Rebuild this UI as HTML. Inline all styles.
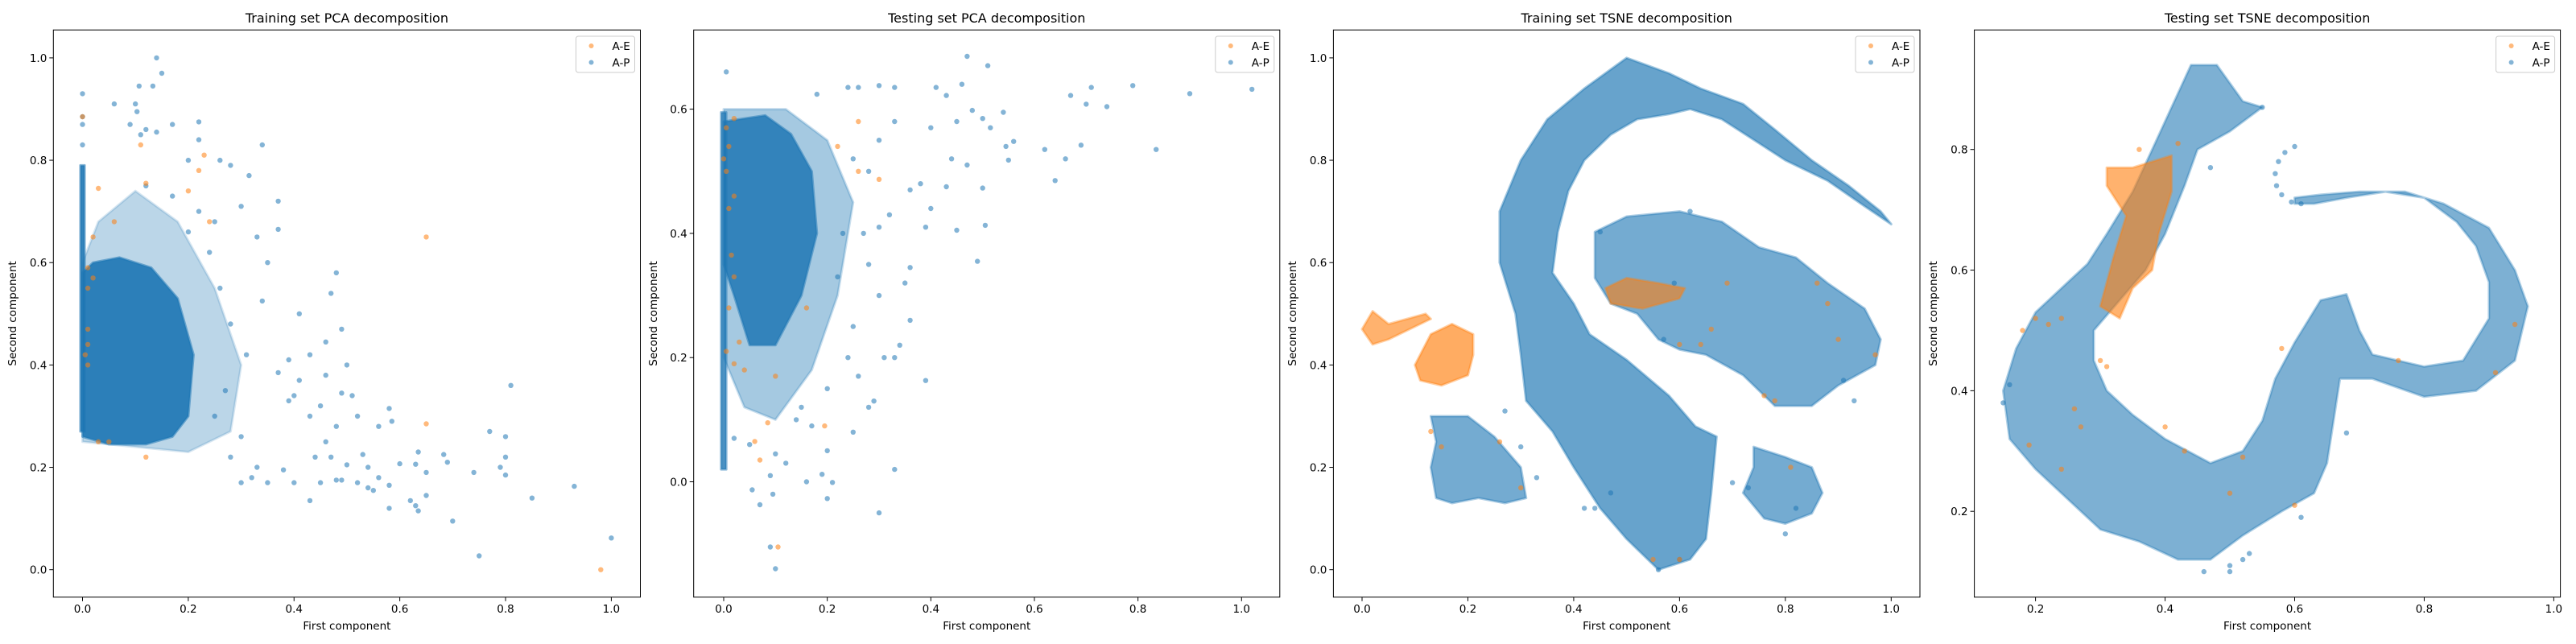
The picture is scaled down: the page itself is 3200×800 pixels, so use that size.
<!DOCTYPE html>
<html><head><meta charset="utf-8"><style>
html,body{margin:0;padding:0;background:#fff}
svg{display:block;font-family:"DejaVu Sans","Liberation Sans",sans-serif}
</style></head><body>
<svg id="fig" width="3200" height="800" viewBox="0 0 3200 800" xmlns="http://www.w3.org/2000/svg"></svg>
<script>
// ---------- data (data coordinates) ----------
// Panel 1: Training set PCA
const p1DenseCore = [[0,0.26],[0.05,0.245],[0.12,0.245],[0.17,0.26],[0.2,0.3],[0.21,0.42],[0.18,0.53],[0.13,0.59],[0.07,0.61],[0.02,0.6],[0,0.58]];
const p1Halo = [[0,0.25],[0.2,0.23],[0.28,0.27],[0.3,0.4],[0.25,0.55],[0.18,0.68],[0.1,0.74],[0.03,0.68],[0,0.6]];
const p1Strip = [[-0.004,0.27],[0.004,0.27],[0.004,0.79],[-0.004,0.79]];
const p1BlueX = [0.14,0.15,0.107,0.133,0.06,0.1,0.103,0.22,0.17,0.09,0.12,0.14,0.11,0.0,0.34,0.22,0.2,0.26,0.28,0.315,0.37,0.3,0.37,0.33,0.35,0.48,0.47,0.41,0.49,0.34,0.5,0.46,0.43,0.39,0.37,0.41,0.46,0.51,0.49,0.4,0.39,0.45,0.56,0.58,0.585,0.52,0.43,0.48,0.46,0.53,0.44,0.47,0.5,0.54,0.6,0.635,0.63,0.683,0.69,0.77,0.81,0.8,0.8,0.79,0.8,0.74,0.65,0.56,0.58,0.52,0.49,0.54,0.55,0.48,0.45,0.43,0.62,0.63,0.635,0.58,0.65,0.7,0.75,0.85,0.93,1.0,0.3,0.35,0.32,0.4,0.38,0.33,0.28,0.3,0.25,0.27,0.31,0.28,0.26,0.24,0.2,0.22,0.25,0.17,0.12,0.0,0.0,0.0];
const p1BlueY = [1.0,0.97,0.945,0.945,0.91,0.91,0.895,0.875,0.87,0.87,0.86,0.855,0.85,0.93,0.83,0.84,0.8,0.8,0.79,0.77,0.72,0.71,0.665,0.65,0.6,0.58,0.54,0.5,0.47,0.525,0.4,0.445,0.42,0.41,0.385,0.37,0.38,0.34,0.345,0.34,0.33,0.32,0.28,0.315,0.29,0.3,0.3,0.28,0.25,0.225,0.22,0.22,0.205,0.2,0.207,0.23,0.206,0.225,0.21,0.27,0.36,0.26,0.22,0.2,0.185,0.19,0.19,0.18,0.165,0.17,0.175,0.16,0.155,0.175,0.17,0.135,0.135,0.125,0.115,0.12,0.145,0.095,0.027,0.14,0.163,0.062,0.17,0.17,0.18,0.17,0.195,0.2,0.22,0.26,0.3,0.35,0.42,0.48,0.55,0.62,0.66,0.7,0.68,0.73,0.75,0.885,0.87,0.83];
const p1OrangeX = [0.98,0.65,0.65,0.23,0.22,0.03,0.12,0.2,0.24,0.02,0.01,0.02,0.01,0.01,0.01,0.005,0.01,0.12,0.03,0.05,0.11,0.06,0.0];
const p1OrangeY = [0.0,0.65,0.285,0.81,0.78,0.745,0.755,0.74,0.68,0.65,0.59,0.57,0.55,0.47,0.44,0.42,0.4,0.22,0.25,0.25,0.83,0.68,0.885];

// Panel 2: Testing set PCA
const p2DenseCore = [[0,0.58],[0.08,0.59],[0.13,0.56],[0.17,0.5],[0.18,0.4],[0.15,0.3],[0.1,0.22],[0.05,0.22],[0.02,0.3],[0,0.35]];
const p2Halo = [[0,0.6],[0.12,0.6],[0.2,0.55],[0.25,0.45],[0.22,0.3],[0.17,0.18],[0.1,0.1],[0.04,0.12],[0,0.2]];
const p2Strip = [[-0.005,0.02],[0.005,0.02],[0.005,0.595],[-0.005,0.595]];
const p2BlueX = [0.005,0.47,0.51,0.46,0.71,0.79,1.02,0.9,0.67,0.7,0.74,0.43,0.41,0.3,0.33,0.26,0.24,0.18,0.48,0.54,0.5,0.515,0.45,0.4,0.56,0.545,0.69,0.62,0.66,0.835,0.55,0.47,0.44,0.64,0.5,0.43,0.45,0.505,0.39,0.4,0.36,0.38,0.49,0.39,0.33,0.3,0.2,0.1,0.09,0.095,0.07,0.055,0.16,0.21,0.19,0.09,0.12,0.1,0.28,0.29,0.25,0.2,0.33,0.31,0.34,0.36,0.36,0.35,0.3,0.28,0.27,0.3,0.32,0.28,0.3,0.33,0.25,0.23,0.22,0.25,0.2,0.15,0.17,0.05,0.02,0.14,0.24,0.26];
const p2BlueY = [0.66,0.685,0.67,0.64,0.635,0.638,0.632,0.625,0.622,0.608,0.604,0.622,0.635,0.638,0.635,0.635,0.635,0.624,0.598,0.595,0.585,0.57,0.58,0.57,0.548,0.54,0.542,0.535,0.52,0.535,0.518,0.51,0.52,0.485,0.473,0.475,0.405,0.413,0.41,0.44,0.47,0.48,0.355,0.163,0.02,-0.05,-0.027,-0.14,-0.105,-0.02,-0.037,-0.013,0.0,-0.001,0.012,0.01,0.03,0.045,0.12,0.13,0.08,0.05,0.2,0.2,0.22,0.26,0.345,0.32,0.3,0.35,0.4,0.41,0.43,0.5,0.55,0.58,0.52,0.4,0.33,0.25,0.15,0.12,0.09,0.06,0.07,0.1,0.2,0.17];
const p2OrangeX = [0.105,0.07,0.06,0.085,0.195,0.1,0.03,0.005,0.02,0.04,0.26,0.3,0.26,0.22,0.0,0.01,0.005,0.02,0.01,0.015,0.02,0.01,0.16,0.02,0.005];
const p2OrangeY = [-0.105,0.035,0.065,0.095,0.09,0.17,0.225,0.21,0.19,0.18,0.58,0.487,0.5,0.54,0.52,0.54,0.5,0.46,0.44,0.365,0.33,0.28,0.28,0.585,0.57];

// Panel 3: Training set TSNE
const p3Arc = [[0.5,1.0],[0.42,0.94],[0.35,0.88],[0.3,0.8],[0.26,0.7],[0.26,0.6],[0.29,0.5],[0.3,0.42],[0.31,0.33],[0.36,0.27],[0.4,0.2],[0.45,0.12],[0.5,0.06],[0.56,0.0],[0.62,0.02],[0.65,0.06],[0.66,0.15],[0.67,0.26],[0.63,0.28],[0.58,0.34],[0.5,0.41],[0.43,0.46],[0.4,0.52],[0.36,0.58],[0.37,0.66],[0.39,0.74],[0.42,0.8],[0.47,0.85],[0.52,0.88],[0.58,0.89],[0.62,0.9],[0.68,0.88],[0.74,0.84],[0.8,0.8],[0.88,0.76],[0.95,0.71],[1.0,0.675],[0.98,0.7],[0.92,0.75],[0.85,0.8],[0.78,0.86],[0.72,0.91],[0.64,0.94],[0.58,0.97]];
const p3RightBlob = [[0.44,0.66],[0.5,0.69],[0.6,0.7],[0.68,0.68],[0.75,0.63],[0.82,0.61],[0.88,0.56],[0.95,0.51],[0.98,0.45],[0.97,0.4],[0.9,0.36],[0.85,0.32],[0.78,0.32],[0.72,0.38],[0.65,0.42],[0.6,0.43],[0.56,0.45],[0.52,0.5],[0.47,0.52],[0.44,0.57],[0.44,0.62]];
const p3LowLeft = [[0.13,0.3],[0.2,0.3],[0.25,0.26],[0.3,0.2],[0.31,0.14],[0.27,0.13],[0.22,0.14],[0.17,0.13],[0.14,0.14],[0.13,0.2],[0.14,0.25]];
const p3LowRight = [[0.74,0.24],[0.8,0.22],[0.85,0.2],[0.87,0.15],[0.85,0.11],[0.8,0.09],[0.76,0.1],[0.72,0.15],[0.74,0.2]];
const p3OrangeBlob = [[0.1,0.4],[0.13,0.46],[0.17,0.48],[0.21,0.46],[0.21,0.42],[0.2,0.38],[0.15,0.36],[0.11,0.37]];
const p3OrangeWisp = [[0.0,0.47],[0.02,0.505],[0.05,0.48],[0.12,0.5],[0.13,0.49],[0.05,0.45],[0.02,0.44]];
const p3OrangeInner = [[0.46,0.55],[0.5,0.57],[0.56,0.56],[0.61,0.55],[0.6,0.53],[0.53,0.51],[0.47,0.52]];
const p3BlueX = [0.44,0.47,0.56,0.6,0.3,0.33,0.27,0.57,0.45,0.73,0.8,0.82,0.7,0.93,0.91,0.62,0.59,0.42];
const p3BlueY = [0.12,0.15,0.0,0.02,0.24,0.18,0.31,0.45,0.66,0.16,0.07,0.12,0.17,0.33,0.37,0.7,0.56,0.12];
const p3OrangeX = [0.76,0.78,0.88,0.86,0.6,0.64,0.66,0.69,0.9,0.97,0.26,0.3,0.55,0.6,0.81,0.15,0.13];
const p3OrangeY = [0.34,0.33,0.52,0.56,0.44,0.44,0.47,0.56,0.45,0.42,0.25,0.16,0.02,0.02,0.2,0.24,0.27];

// Panel 4: Testing set TSNE
const p4Band = [[0.44,0.94],[0.48,0.94],[0.52,0.88],[0.55,0.87],[0.5,0.83],[0.45,0.8],[0.43,0.74],[0.4,0.66],[0.37,0.6],[0.33,0.55],[0.29,0.5],[0.29,0.45],[0.31,0.4],[0.35,0.36],[0.4,0.32],[0.47,0.28],[0.52,0.3],[0.55,0.35],[0.57,0.42],[0.6,0.48],[0.64,0.55],[0.68,0.56],[0.7,0.5],[0.72,0.46],[0.8,0.44],[0.86,0.45],[0.9,0.52],[0.9,0.58],[0.88,0.64],[0.85,0.68],[0.8,0.72],[0.74,0.73],[0.68,0.72],[0.63,0.71],[0.6,0.71],[0.6,0.72],[0.64,0.725],[0.7,0.73],[0.77,0.73],[0.83,0.71],[0.9,0.67],[0.94,0.6],[0.96,0.54],[0.94,0.45],[0.88,0.4],[0.8,0.39],[0.72,0.42],[0.67,0.42],[0.66,0.35],[0.65,0.28],[0.63,0.23],[0.58,0.2],[0.52,0.16],[0.47,0.12],[0.42,0.12],[0.36,0.15],[0.3,0.17],[0.25,0.22],[0.2,0.27],[0.16,0.32],[0.15,0.4],[0.17,0.47],[0.2,0.53],[0.25,0.58],[0.28,0.61],[0.31,0.66],[0.35,0.73],[0.38,0.8],[0.41,0.87]];
const p4OrangeBand = [[0.31,0.77],[0.35,0.77],[0.41,0.79],[0.41,0.73],[0.39,0.66],[0.38,0.6],[0.35,0.57],[0.33,0.52],[0.3,0.54],[0.32,0.62],[0.34,0.69],[0.31,0.74]];
const p4BlueX = [0.6,0.585,0.575,0.57,0.572,0.58,0.595,0.61,0.5,0.53,0.46,0.47,0.55,0.68,0.15,0.16,0.5,0.52,0.61];
const p4BlueY = [0.805,0.795,0.78,0.76,0.74,0.725,0.713,0.71,0.1,0.13,0.1,0.77,0.87,0.33,0.38,0.41,0.11,0.12,0.19];
const p4OrangeX = [0.18,0.2,0.22,0.24,0.3,0.31,0.26,0.27,0.24,0.19,0.4,0.43,0.52,0.5,0.6,0.58,0.94,0.91,0.76,0.36,0.42];
const p4OrangeY = [0.5,0.52,0.51,0.52,0.45,0.44,0.37,0.34,0.27,0.31,0.34,0.3,0.29,0.23,0.21,0.47,0.51,0.43,0.45,0.8,0.81];

const xTicks1 = [0,0.2,0.4,0.6,0.8,1.0], yTicks1 = [0,0.2,0.4,0.6,0.8,1.0];
const xTicks2 = [0,0.2,0.4,0.6,0.8,1.0], yTicks2 = [0,0.2,0.4,0.6];
const xTicks3 = [0,0.2,0.4,0.6,0.8,1.0], yTicks3 = [0,0.2,0.4,0.6,0.8,1.0];
const xTicks4 = [0.2,0.4,0.6,0.8,1.0], yTicks4 = [0.2,0.4,0.6,0.8];
const titles = ["Training set PCA decomposition","Testing set PCA decomposition","Training set TSNE decomposition","Testing set TSNE decomposition"];
const legendLabels = ["A-E","A-P"];

// ---------- rendering ----------
const NS = "http://www.w3.org/2000/svg";
const svg = document.getElementById('fig');
const BLUE = "#1f77b4", ORANGE = "#ff7f0e";
function mk(tag, attrs, parent){ const e=document.createElementNS(NS,tag); for(const k in attrs) e.setAttribute(k,attrs[k]); (parent||svg).appendChild(e); return e; }

const panels = [
 {l:66.3,r:795.5,xa:0,xpa:102.5,xb:1,xpb:759.4,ya:0,ypa:707.7,yb:1,ypb:71.9,xt:xTicks1,yt:yTicks1,ylab:20},
 {l:861.7,r:1589.8,xa:0,xpa:899,xb:1,xpb:1542.3,ya:0,ypa:598.5,yb:0.6,ypb:135.6,xt:xTicks2,yt:yTicks2,ylab:816},
 {l:1656.4,r:2385,xa:0,xpa:1692,xb:1,xpb:2349.3,ya:0,ypa:707.7,yb:1,ypb:71.9,xt:xTicks3,yt:yTicks3,ylab:1610},
 {l:2452.6,r:3180.6,xa:0.2,xpa:2528.6,xb:1,xpb:3172.4,ya:0.2,ypa:635.2,yb:0.8,ypb:185.7,xt:xTicks4,yt:yTicks4,ylab:2406}
];
const TOP=37.2, BOT=741.8;

function sx(p,v){ return p.xpa+(v-p.xa)*(p.xpb-p.xpa)/(p.xb-p.xa); }
function sy(p,v){ return p.ypa+(v-p.ya)*(p.ypb-p.ypa)/(p.yb-p.ya); }

function region(p,g,pts,color,op,name){
  const d = pts.map(q=>sx(p,q[0]).toFixed(1)+","+sy(p,q[1]).toFixed(1)).join(" ");
  const e = mk('polygon',{points:d,fill:color,'fill-opacity':op,stroke:color,'stroke-opacity':op*0.6,'stroke-width':3,'stroke-linejoin':'round'},g);
  
  
}
function dots(p,g,xs,ys,color,name){
  for(let i=0;i<xs.length;i++){
    const c = mk('circle',{cx:sx(p,xs[i]).toFixed(1),cy:sy(p,ys[i]).toFixed(1),r:3.2,fill:color,'fill-opacity':0.55},g);
    
    
  }
}

const content = [
  (p,g)=>{ region(p,g,p1Halo,BLUE,0.3,'density-halo'); region(p,g,p1DenseCore,BLUE,0.92,'density-core'); region(p,g,p1Strip,BLUE,0.9,'zero-strip'); dots(p,g,p1BlueX,p1BlueY,BLUE,'point-a-p'); dots(p,g,p1OrangeX,p1OrangeY,ORANGE,'point-a-e'); },
  (p,g)=>{ region(p,g,p2Halo,BLUE,0.4,'density-halo'); region(p,g,p2DenseCore,BLUE,0.85,'density-core'); region(p,g,p2Strip,BLUE,0.8,'zero-strip'); dots(p,g,p2BlueX,p2BlueY,BLUE,'point-a-p'); dots(p,g,p2OrangeX,p2OrangeY,ORANGE,'point-a-e'); },
  (p,g)=>{ region(p,g,p3Arc,BLUE,0.68,'cluster-arc'); region(p,g,p3RightBlob,BLUE,0.62,'cluster-right'); region(p,g,p3LowLeft,BLUE,0.62,'cluster-low-left'); region(p,g,p3LowRight,BLUE,0.62,'cluster-low-right'); region(p,g,p3OrangeBlob,ORANGE,0.65,'cluster-a-e'); region(p,g,p3OrangeWisp,ORANGE,0.6,'cluster-a-e-wisp'); region(p,g,p3OrangeInner,ORANGE,0.6,'cluster-a-e-inner'); dots(p,g,p3BlueX,p3BlueY,BLUE,'point-a-p'); dots(p,g,p3OrangeX,p3OrangeY,ORANGE,'point-a-e'); },
  (p,g)=>{ region(p,g,p4Band,BLUE,0.58,'cluster-band'); region(p,g,p4OrangeBand,ORANGE,0.6,'cluster-a-e'); dots(p,g,p4BlueX,p4BlueY,BLUE,'point-a-p'); dots(p,g,p4OrangeX,p4OrangeY,ORANGE,'point-a-e'); }
];

panels.forEach((p,i)=>{
  const g = mk('g',{});
  
  
  const cid='clip'+i;
  const cp=mk('clipPath',{id:cid},g); mk('rect',{x:p.l,y:TOP,width:p.r-p.l,height:BOT-TOP},cp);
  const pg = mk('g',{'clip-path':'url(#'+cid+')'},g);
  
  
  content[i](p,pg);
  const fr = mk('rect',{x:p.l,y:TOP,width:p.r-p.l,height:BOT-TOP,fill:'none',stroke:'#000','stroke-width':1},g);
  
  
  p.xt.forEach(v=>{
    const x=sx(p,v);
    mk('line',{x1:x,y1:BOT,x2:x,y2:BOT+5,stroke:'#000','stroke-width':1},g);
    const t=mk('text',{x:x,y:BOT+19,'font-size':13.5,'text-anchor':'middle',fill:'#000'},g);
    t.textContent=v.toFixed(1);
    
    
  });
  p.yt.forEach(v=>{
    const y=sy(p,v);
    mk('line',{x1:p.l-5,y1:y,x2:p.l,y2:y,stroke:'#000','stroke-width':1},g);
    const t=mk('text',{x:p.l-8,y:y+5,'font-size':13.5,'text-anchor':'end',fill:'#000'},g);
    t.textContent=v.toFixed(1);
    
    
  });
  const cx=(p.l+p.r)/2;
  const tt=mk('text',{x:cx,y:28,'font-size':16,'text-anchor':'middle',fill:'#000'},g);
  tt.textContent=titles[i];
  
  
  const xl=mk('text',{x:cx,y:782,'font-size':13.5,'text-anchor':'middle',fill:'#000'},g);
  xl.textContent="First component";
  
  
  const yc=(TOP+BOT)/2;
  const yl=mk('text',{x:p.ylab,y:yc,'font-size':13.5,'text-anchor':'middle',fill:'#000',transform:'rotate(-90 '+p.ylab+' '+yc+')'},g);
  yl.textContent="Second component";
  
  
  const lg=mk('g',{},g);
  
  
  const lw=73, lx=p.r-7-lw;
  mk('rect',{x:lx,y:45,width:lw,height:45,rx:3,fill:'#fff','fill-opacity':0.8,stroke:'#ccc'},lg);
  [ORANGE,BLUE].forEach((c,k)=>{
    const yy=57+k*20.5;
    const m=mk('circle',{cx:lx+19,cy:yy,r:3,fill:c,'fill-opacity':0.55},lg);
    
    
    const lt=mk('text',{x:lx+45,y:yy+5,'font-size':13.5,fill:'#000'},lg);
    lt.textContent=legendLabels[k];
    
    
  });
});
</script>
</body></html>
